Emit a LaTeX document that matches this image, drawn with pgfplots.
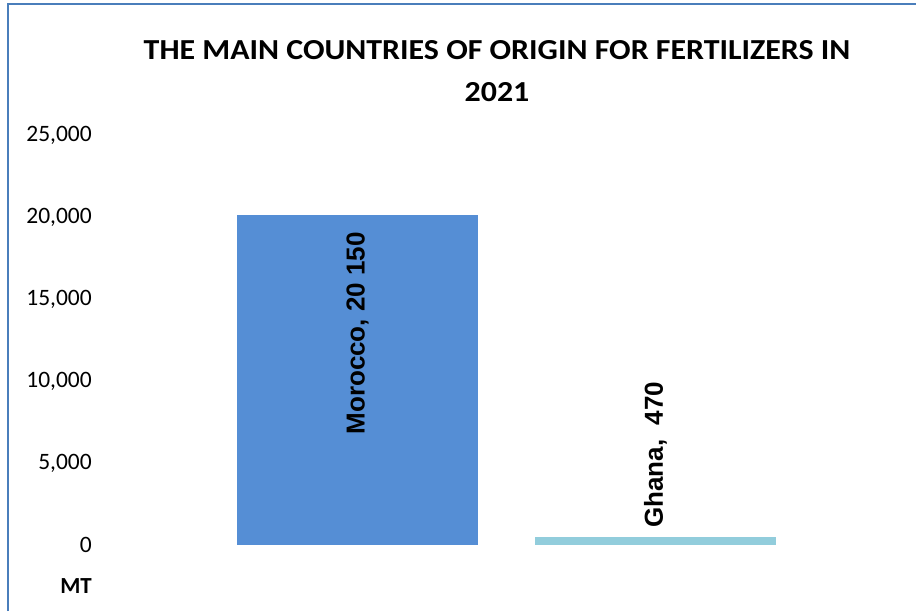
\documentclass[border=0pt]{standalone}
\usepackage{pgfplots}
\pgfplotsset{compat=1.18}
\usepackage{fontspec}
\setmainfont{Carlito}
\newfontfamily\arialb{Liberation Sans}
\definecolor{barA}{RGB}{85,142,213}
\definecolor{barB}{RGB}{146,205,220}
\definecolor{frame}{RGB}{74,126,187}
\begin{document}
\begin{tikzpicture}
\useasboundingbox (0,0) rectangle (916pt,611pt);
\fill[white] (0,0) rectangle (916pt,611pt);
\draw[frame, line width=2pt] (8pt,0) -- (8pt,607pt) -- (916pt,607pt);
\begin{axis}[
  at={(208.5pt,66pt)}, anchor=south west,
  scale only axis, width=596pt, height=410pt,
  xmin=-0.5, xmax=1.5, ymin=0, ymax=25000,
  ytick={0,5000,10000,15000,20000,25000},
  xtick=\empty,
  axis line style={draw=none},
  tick style={draw=none},
  major tick length=0pt,
  scaled y ticks=false,
  /pgf/number format/.cd, 1000 sep={,}, assume math mode=true,
  /pgfplots/.cd,
  yticklabel style={font=\fontsize{23.5}{27}\selectfont, anchor=east, inner sep=0pt, xshift=-116.5pt},
  ybar, bar width=241pt,
  clip=false,
]
\addplot[fill=barA, draw=none, bar shift=0pt] coordinates {(0,20150)};
\addplot[fill=barB, draw=none, bar shift=0pt] coordinates {(1,470)};
\node[rotate=90, anchor=east, inner sep=0pt, font=\arialb\bfseries\fontsize{26}{30}\selectfont] at (axis cs:0,19085) {Morocco, 20 150};
\node[rotate=90, anchor=west, inner sep=0pt, font=\arialb\bfseries\fontsize{26}{30}\selectfont] at (axis cs:1,1037) {Ghana,\ \ 470};
\end{axis}
\node[anchor=base, inner sep=0pt, xscale=1.1, font=\bfseries\fontsize{29}{33}\selectfont] at (497pt,551pt) {THE MAIN COUNTRIES OF ORIGIN FOR FERTILIZERS IN};
\node[anchor=base, inner sep=0pt, xscale=1.1, font=\bfseries\fontsize{29}{33}\selectfont] at (497pt,509pt) {2021};
\node[anchor=base east, inner sep=0pt, font=\bfseries\fontsize{23}{27}\selectfont] at (92pt,18pt) {MT};
\end{tikzpicture}
\end{document}
